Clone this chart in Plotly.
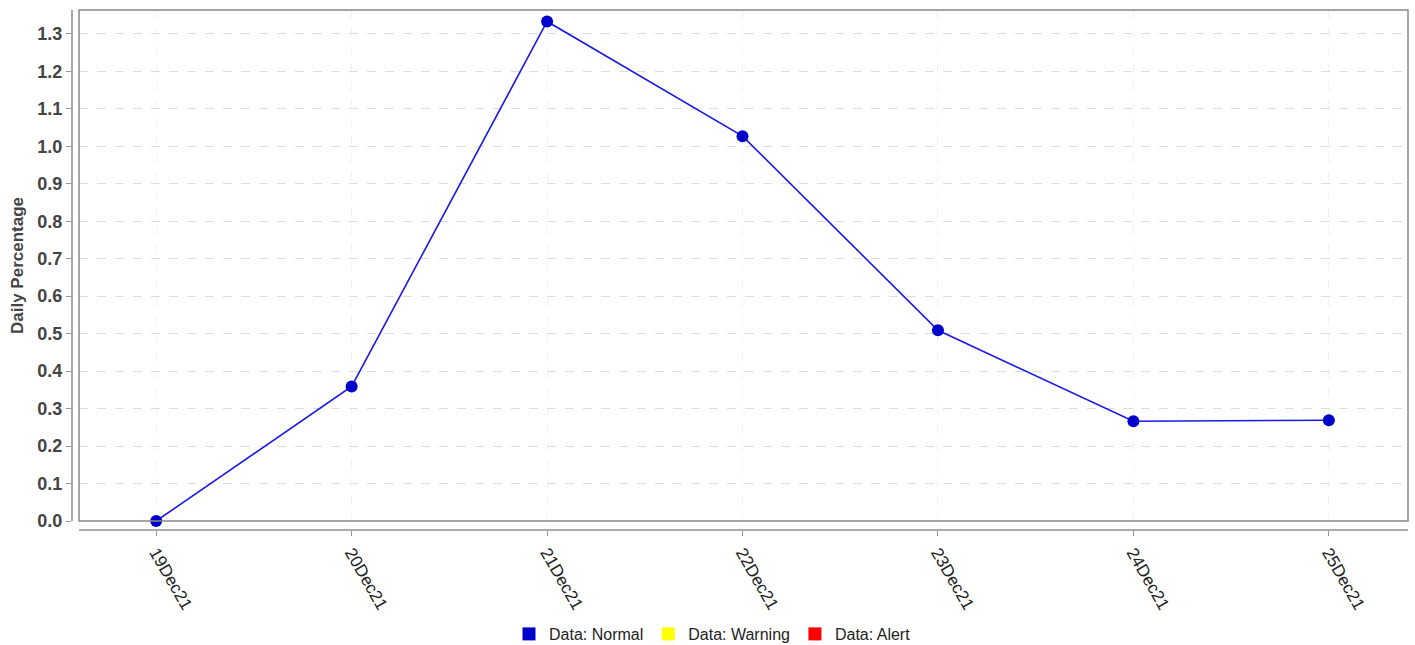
import plotly.graph_objects as go

categories = ["19Dec21", "20Dec21", "21Dec21", "22Dec21", "23Dec21", "24Dec21", "25Dec21"]
values = [0.0, 0.359, 1.333, 1.027, 0.509, 0.266, 0.269]
y_ticks = [round(i * 0.1, 1) for i in range(14)]
y_tick_labels = [f"<b>{v:.1f}</b>" for v in y_ticks]
legend_names = ["Data: Normal", "Data: Warning", "Data: Alert"]
legend_colors = ["#0000cc", "#ffff00", "#ff0000"]

W, H = 1415, 645
ml, mr, mt, mb = 72, 7, 10, 115
pw = W - ml - mr
ph = H - mt - mb

fig = go.Figure()
fig.add_trace(go.Scatter(
    x=list(range(len(categories))), y=values, mode="lines+markers",
    line=dict(color="#1a1ae6", width=1.6),
    marker=dict(color="#0000cc", size=12),
    showlegend=False, cliponaxis=False,
))
for name, col in zip(legend_names, legend_colors):
    fig.add_trace(go.Scatter(
        x=[None], y=[None], mode="markers", name=name,
        marker=dict(color=col, size=13, symbol="square"),
    ))

xdom0 = 7 / pw
ydom0 = 9 / ph
fig.update_layout(
    width=W, height=H,
    margin=dict(l=ml, r=mr, t=mt, b=mb, autoexpand=False),
    paper_bgcolor="white", plot_bgcolor="white",
    font=dict(family="Liberation Sans, Arial, sans-serif", color="#333"),
    xaxis=dict(
        domain=[xdom0, 1], anchor="free", position=0, automargin=False,
        range=[-0.395, 6.405],
        tickmode="array", tickvals=list(range(len(categories))), ticktext=categories,
        tickangle=60, tickfont=dict(size=17, color="#222"),
        showline=True, linecolor="#aaaaaa", linewidth=2,
        ticks="outside", ticklen=5, tickcolor="#999", tickwidth=1,
        showgrid=True, gridcolor="#f2f2f2", griddash="dash", gridwidth=1,
        zeroline=False,
    ),
    yaxis=dict(
        domain=[ydom0, 1], anchor="free", position=0, automargin=False,
        range=[0, 1.3636],
        tickmode="array", tickvals=y_ticks, ticktext=y_tick_labels,
        tickfont=dict(size=18, color="#444", family="Liberation Sans, Arial, sans-serif"),
        showline=True, linecolor="#aaaaaa", linewidth=2,
        ticks="outside", ticklen=5, tickcolor="#999", tickwidth=1,
        showgrid=True, gridcolor="#dddddd", griddash="dash", gridwidth=1,
        zeroline=False,
        title=dict(text="<b>Daily Percentage</b>", font=dict(size=17, color="#444"), standoff=8),
    ),
    legend=dict(
        orientation="h", x=(509 - ml) / pw, xanchor="left", y=-0.2, yanchor="middle",
        font=dict(size=16, color="#222"), itemwidth=30, tracegroupgap=0,
        bgcolor="rgba(0,0,0,0)",
    ),
    showlegend=True,
)

fig.add_shape(type="rect", xref="x domain", yref="y domain", x0=0, x1=1, y0=0, y1=1,
              line=dict(color="#888888", width=1.5), fillcolor="rgba(0,0,0,0)", layer="above")

fig.write_html("out.html", config={"displayModeBar": False},
               post_script="document.body.style.margin='0';")
